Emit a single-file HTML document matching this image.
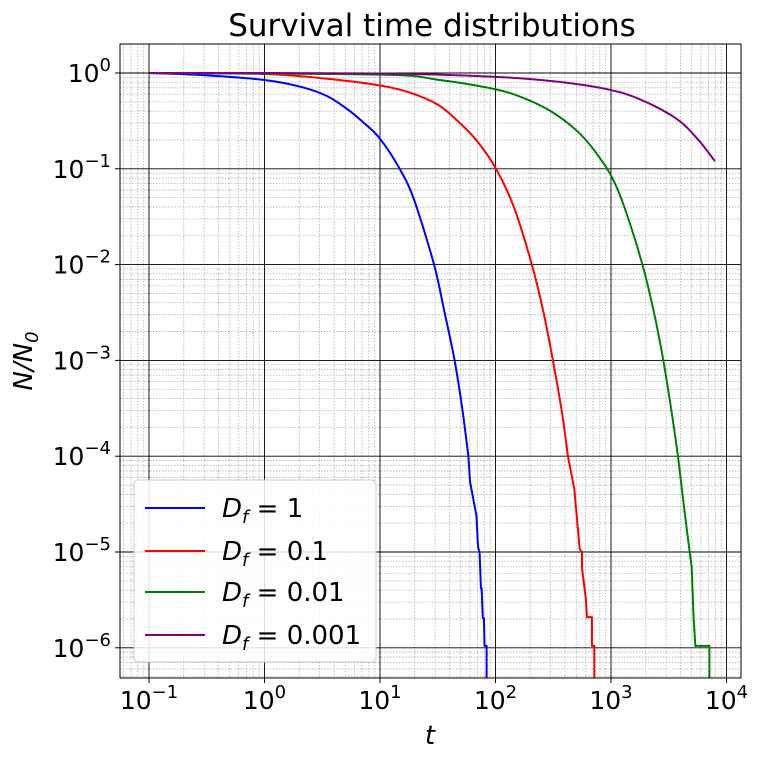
<!DOCTYPE html>
<html><head><meta charset="utf-8"><style>
body{margin:0;background:#fff}
svg text{font-family:"DejaVu Sans","Liberation Sans",sans-serif}
</style></head><body>
<svg id="c" width="759" height="760"></svg>
<script>
const seriesNames=["D_f = 1","D_f = 0.1","D_f = 0.01","D_f = 0.001"];
const colors=["blue","red","green","purple"];
// log10(t), log10(N/N0)
const blueLogT=[-1,-0.5,0,0.31,0.54,0.72,0.86,1,1.17,1.294,1.468,1.554,1.646,1.713,1.765,1.78,1.835,1.849,1.862,1.874,1.88,1.89,1.90,1.905,1.923,1.923];
const blueLogN=[0,-0.025,-0.073,-0.143,-0.24,-0.38,-0.52,-0.686,-1,-1.32,-2,-2.47,-3,-3.51,-4,-4.27,-4.62,-4.95,-5.0,-5.38,-5.38,-5.69,-5.69,-5.98,-5.98,-7];
const redLogT=[-1,0,0.54,1,1.26,1.5,1.69,1.84,2,2.156,2.315,2.416,2.497,2.575,2.627,2.682,2.729,2.749,2.749,2.763,2.783,2.792,2.835,2.835,2.856,2.856];
const redLogN=[0,-0.01,-0.06,-0.13,-0.205,-0.33,-0.52,-0.71,-0.99,-1.39,-2,-2.5,-3,-3.54,-4,-4.34,-4.97,-5.0,-5.17,-5.3,-5.5,-5.68,-5.68,-5.98,-5.98,-7];
const greenLogT=[-1,1,1.5,2,2.27,2.5,2.71,2.85,3,3.113,3.272,3.372,3.453,3.525,3.58,3.634,3.678,3.698,3.715,3.73,3.852,3.852];
const greenLogN=[0,-0.017,-0.07,-0.17,-0.275,-0.415,-0.61,-0.80,-1.07,-1.39,-2,-2.5,-3,-3.54,-4,-4.55,-4.97,-5.15,-5.68,-5.98,-5.98,-7];
const purpleLogT=[-1,1,2,2.56,3,3.28,3.57,3.75,3.9];
const purpleLogN=[0,-0.005,-0.04,-0.094,-0.178,-0.29,-0.48,-0.69,-0.92];
const xTicks=[-1,0,1,2,3,4];
const yTicks=[0,-1,-2,-3,-4,-5,-6];
const smoothUpTo=[14,14,14,8];
const L=120,R=741,T=44,B=678;
const XL=lt=>149+(lt+1)*115.5;
const YL=ln=>73-ln*95.8;
const X=t=>XL(Math.log10(t));
const Y=n=>YL(Math.log10(n));
const s=document.getElementById('c');const NS='http://www.w3.org/2000/svg';
function mk(tag,a,p){const e=document.createElementNS(NS,tag);for(const k in a)e.setAttribute(k,a[k]);(p||s).appendChild(e);return e;}
const defs=mk('defs',{});const cp=mk('clipPath',{id:'cp'},defs);mk('rect',{x:L,y:T,width:R-L,height:B-T},cp);
const grid=mk('g',{});
for(let d=-2;d<=4;d++)for(let m=2;m<=9;m++){const x=X(m*Math.pow(10,d));if(x>L&&x<R)mk('line',{x1:x,x2:x,y1:T,y2:B,stroke:'#b0b0b0','stroke-width':0.8,'stroke-dasharray':'1.5,1.5'},grid);}
for(let d=-7;d<=0;d++)for(let m=2;m<=9;m++){const y=Y(m*Math.pow(10,d));if(y>T&&y<B)mk('line',{x1:L,x2:R,y1:y,y2:y,stroke:'#b0b0b0','stroke-width':0.8,'stroke-dasharray':'1.5,1.5'},grid);}
xTicks.forEach(d=>{const x=XL(d);mk('line',{x1:x,x2:x,y1:T,y2:B,stroke:'#000','stroke-width':0.9},grid);
const t=mk('text',{x:x,y:709,'font-size':25,'text-anchor':'middle'});t.innerHTML='10<tspan dy="-11" font-size="18">'+(d<0?'−'+(-d):d)+'</tspan>';
mk('line',{x1:x,x2:x,y1:B,y2:B+5,stroke:'#000'});});
yTicks.forEach(d=>{const y=YL(d);mk('line',{x1:L,x2:R,y1:y,y2:y,stroke:'#000','stroke-width':0.9},grid);
const t=mk('text',{x:111,y:y+9,'font-size':25,'text-anchor':'end'});t.innerHTML='10<tspan dy="-11" font-size="18">'+(d<0?'−'+(-d):d)+'</tspan>';
mk('line',{x1:L-5,x2:L,y1:y,y2:y,stroke:'#000'});});
const data=[[blueLogT,blueLogN],[redLogT,redLogN],[greenLogT,greenLogN],[purpleLogT,purpleLogN]];
data.forEach((dd,i)=>{
const P=dd[0].map((t,j)=>[XL(t),YL(dd[1][j])]);
const k=smoothUpTo[i];
let d='M'+P[0][0]+','+P[0][1];
for(let j=0;j<P.length-1;j++){
 if(j<k){const p0=P[Math.max(j-1,0)],p1=P[j],p2=P[j+1],p3=P[Math.min(j+2,k)];
  const c1=[p1[0]+(p2[0]-p0[0])/6,p1[1]+(p2[1]-p0[1])/6];
  const c2=[p2[0]-(p3[0]-p1[0])/6,p2[1]-(p3[1]-p1[1])/6];
  d+=' C'+c1+' '+c2+' '+p2;}
 else d+=' L'+P[j+1];}
const p=mk('path',{d:d,fill:'none',stroke:colors[i],'stroke-width':2,'stroke-linejoin':'round','clip-path':'url(#cp)'});
});
mk('rect',{x:L,y:T,width:R-L,height:B-T,fill:'none',stroke:'#000','stroke-width':1});
const title=mk('text',{x:432,y:36,'font-size':31,'text-anchor':'middle'});title.textContent='Survival time distributions';

const xl=mk('text',{x:430,y:744,'font-size':26,'text-anchor':'middle','font-style':'italic'});xl.textContent='t';

const yl=mk('text',{transform:'translate(32,361) rotate(-90)','font-size':26,'text-anchor':'middle','font-style':'italic'});yl.innerHTML='N/N<tspan dy="6" font-size="18">0</tspan>';

const lg=mk('g',{});
mk('rect',{x:134,y:480,width:242,height:182,rx:4,fill:'#fff','fill-opacity':0.85,stroke:'#ccc'},lg);
const labs=['1','0.1','0.01','0.001'];const ly=[508,551,592,635];
labs.forEach((l,i)=>{mk('line',{x1:145,x2:205,y1:ly[i],y2:ly[i],stroke:colors[i],'stroke-width':2},lg);
const t=mk('text',{x:222,y:ly[i]+9,'font-size':26},lg);t.innerHTML='<tspan font-style="italic">D</tspan><tspan dy="6" font-size="18" font-style="italic">f</tspan><tspan dy="-6"> = '+l+'</tspan>';
});
</script>
</body></html>
